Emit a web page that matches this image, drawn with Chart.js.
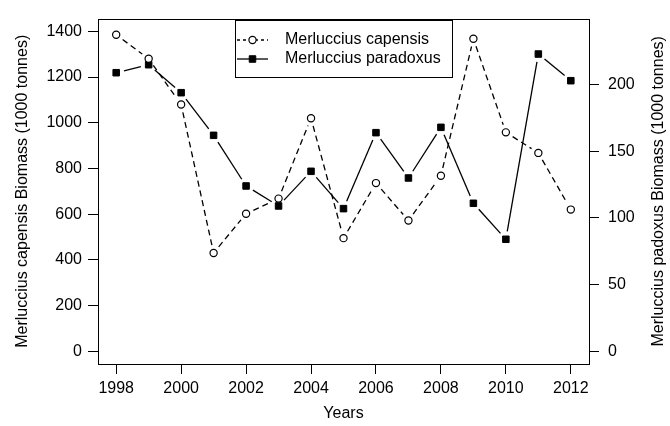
<!DOCTYPE html>
<html>
<head>
<meta charset="utf-8">
<title>Merluccius biomass 1998-2012</title>
<script src="https://cdn.jsdelivr.net/npm/chart.js@4.4.1/dist/chart.umd.min.js"></script>
<style>
  html, body { margin: 0; padding: 0; background: #fff; }
  canvas { display: block; }
</style>
</head>
<body>
<canvas id="biomassChart" width="670" height="426"></canvas>
<script>
// Survey years and biomass estimates (1000 tonnes)
const years = [1998, 1999, 2000, 2001, 2002, 2003, 2004, 2005, 2006, 2007, 2008, 2009, 2010, 2011, 2012];
const capensis = [1385, 1280, 1080, 430, 602, 668, 1020, 495, 736, 572, 768, 1368, 958, 868, 620];
const paradoxus = [209, 215, 194, 162, 124, 109, 135, 107, 164, 130, 168, 111, 84, 223, 203];

// Tick labels for each axis
const yearTicks = [1998, 2000, 2002, 2004, 2006, 2008, 2010, 2012];
const capensisTicks = [0, 200, 400, 600, 800, 1000, 1200, 1400];
const paradoxusTicks = [0, 50, 100, 150, 200];

const rightTitle = 'Merluccius padoxus Biomass (1000 tonnes)';

const FONT = { family: '"Liberation Sans", Arial, Helvetica, sans-serif', size: 16 };

// Axis ranges padded by 4% on each side, like R's default
function padded(lo, hi) {
    const d = (hi - lo) * 0.04;
    return { min: lo - d, max: hi + d };
}
const xRange = padded(1998, 2012);
const yRange = padded(0, 1400);
const y1Range = padded(0, 240);

// Connect points with short gaps around each marker (R type = "b")
const gappedLines = {
    id: 'gappedLines',
    beforeDatasetsDraw(chart) {
        const ctx = chart.ctx;
        const gap = 8;
        chart.data.datasets.forEach((ds, i) => {
            const pts = chart.getDatasetMeta(i).data;
            ctx.save();
            ctx.strokeStyle = ds.lineColor;
            ctx.lineWidth = ds.lineWidth;
            ctx.setLineDash(ds.lineDash);
            for (let k = 0; k < pts.length - 1; k++) {
                const p = pts[k], q = pts[k + 1];
                const dx = q.x - p.x, dy = q.y - p.y;
                const len = Math.hypot(dx, dy);
                if (len <= 2 * gap) continue;
                const ux = dx / len, uy = dy / len;
                ctx.beginPath();
                ctx.moveTo(p.x + ux * gap, p.y + uy * gap);
                ctx.lineTo(q.x - ux * gap, q.y - uy * gap);
                ctx.stroke();
            }
            ctx.restore();
        });
    }
};

// Box around the plotting region, plus the right axis title read bottom-to-top
const plotBox = {
    id: 'plotBox',
    afterDraw(chart) {
        const { ctx, chartArea: a } = chart;
        ctx.save();
        ctx.strokeStyle = '#000';
        ctx.lineWidth = 1;
        ctx.strokeRect(Math.round(a.left) + 0.5, Math.round(a.top) + 0.5,
            Math.round(a.right - a.left), Math.round(a.bottom - a.top));

        ctx.translate(chart.width - 11, (a.top + a.bottom) / 2);
        ctx.rotate(-Math.PI / 2);
        ctx.fillStyle = '#000';
        ctx.font = `${FONT.size}px ${FONT.family}`;
        ctx.textAlign = 'center';
        ctx.textBaseline = 'middle';
        ctx.fillText(rightTitle, 0, 0);
        ctx.restore();
    }
};

// Boxed legend at the top centre of the plot, line sample with marker
const boxLegend = {
    id: 'boxLegend',
    afterDraw(chart) {
        const { ctx, chartArea: a } = chart;
        const w = 217, h = 57, rowH = 19;
        const left = Math.round((a.left + a.right) / 2 - w / 2);
        const top = Math.round(a.top) + 1;
        ctx.save();
        ctx.fillStyle = '#fff';
        ctx.fillRect(left, top, w, h);
        ctx.strokeStyle = '#000';
        ctx.lineWidth = 1;
        ctx.strokeRect(left + 0.5, top + 0.5, w, h);
        chart.data.datasets.forEach((ds, i) => {
            const y = top + 20 + i * rowH;
            const x0 = left + 2, x1 = left + 33, xm = (x0 + x1) / 2;
            ctx.strokeStyle = ds.lineColor;
            ctx.lineWidth = ds.lineWidth;
            ctx.setLineDash(ds.legendDash);
            ctx.beginPath();
            ctx.moveTo(x0, y);
            ctx.lineTo(x1, y);
            ctx.stroke();
            ctx.setLineDash([]);
            ctx.fillStyle = ds.pointBackgroundColor;
            ctx.strokeStyle = ds.pointBorderColor;
            ctx.lineWidth = ds.pointBorderWidth;
            ctx.beginPath();
            if (ds.pointStyle === 'rect') {
                const s = ds.pointRadius * Math.SQRT1_2;
                ctx.rect(xm - s, y - s, 2 * s, 2 * s);
            } else {
                ctx.arc(xm, y, ds.pointRadius, 0, Math.PI * 2);
            }
            ctx.fill();
            ctx.stroke();
            ctx.fillStyle = '#000';
            ctx.font = `${FONT.size}px ${FONT.family}`;
            ctx.textBaseline = 'middle';
            ctx.textAlign = 'left';
            ctx.fillText(ds.label, left + 50, y);
        });
        ctx.restore();
    }
};

function fixedTicks(values) {
    return scale => { scale.ticks = values.map(v => ({ value: v })); };
}

const tickGrid = {
    display: true,
    drawOnChartArea: false,
    drawTicks: true,
    tickLength: 10,
    tickColor: '#000',
    tickWidth: 1
};

const ctx = document.getElementById('biomassChart').getContext('2d');
new Chart(ctx, {
    type: 'scatter',
    data: {
        datasets: [
            {
                label: 'Merluccius capensis',
                data: years.map((yr, i) => ({ x: yr, y: capensis[i] })),
                yAxisID: 'y',
                pointStyle: 'circle',
                pointRadius: 3.6,
                pointBorderWidth: 1.2,
                pointBorderColor: '#000',
                pointBackgroundColor: '#fff',
                lineColor: '#000',
                lineWidth: 1.3,
                lineDash: [6, 4],
                legendDash: [3, 3]
            },
            {
                label: 'Merluccius paradoxus',
                data: years.map((yr, i) => ({ x: yr, y: paradoxus[i] })),
                yAxisID: 'y1',
                pointStyle: 'rect',
                pointRadius: 4.6,
                pointBorderWidth: 1,
                pointBorderColor: '#000',
                pointBackgroundColor: '#000',
                lineColor: '#000',
                lineWidth: 1.3,
                lineDash: [],
                legendDash: []
            }
        ]
    },
    options: {
        responsive: false,
        animation: false,
        devicePixelRatio: 1,
        layout: { padding: { top: 10, left: 0, right: 0, bottom: 0 } },
        plugins: {
            legend: { display: false },
            tooltip: { enabled: false }
        },
        elements: { point: { hoverRadius: 0 } },
        scales: {
            x: {
                type: 'linear',
                min: xRange.min,
                max: xRange.max,
                afterBuildTicks: fixedTicks(yearTicks),
                afterFit: s => { s.height = 62; },
                grid: tickGrid,
                border: { display: false },
                ticks: { color: '#000', font: FONT, padding: 5, maxRotation: 0, callback: v => String(v) },
                title: { display: true, text: 'Years', color: '#000', font: FONT, padding: { top: 0, bottom: 3 } }
            },
            y: {
                position: 'left',
                min: yRange.min,
                max: yRange.max,
                afterBuildTicks: fixedTicks(capensisTicks),
                afterFit: s => { s.width = 98; },
                grid: tickGrid,
                border: { display: false },
                ticks: { color: '#000', font: FONT, padding: 6, callback: v => String(v) },
                title: {
                    display: true,
                    text: 'Merluccius capensis Biomass (1000 tonnes)',
                    color: '#000', font: FONT, padding: { top: 13, bottom: 0 }
                }
            },
            y1: {
                position: 'right',
                min: y1Range.min,
                max: y1Range.max,
                afterBuildTicks: fixedTicks(paradoxusTicks),
                afterFit: s => { s.width = 81; },
                grid: tickGrid,
                border: { display: false },
                ticks: { color: '#000', font: FONT, padding: 9, callback: v => String(v) }
            }
        }
    },
    plugins: [gappedLines, plotBox, boxLegend]
});
</script>
</body>
</html>
